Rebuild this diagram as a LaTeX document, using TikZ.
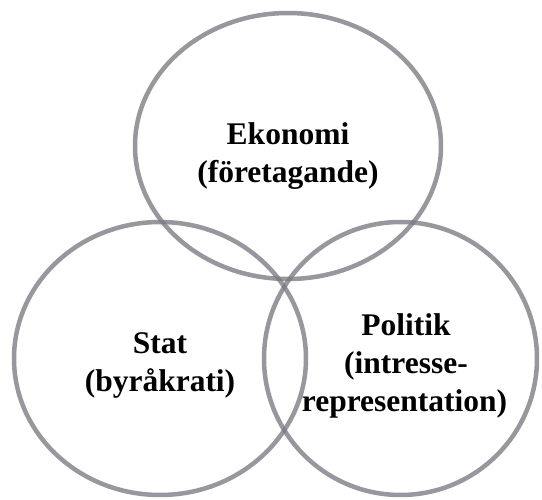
\documentclass[tikz,border=0pt]{standalone}
\usepackage{fontspec}
\setmainfont{Liberation Serif}
\definecolor{ringgray}{RGB}{122,122,130}
\begin{document}
\begin{tikzpicture}[x=1pt,y=-1pt,
  ring/.style={draw=ringgray, draw opacity=0.78, line width=4.5pt},
  lbl/.style={anchor=base, inner sep=0pt, font=\fontsize{31.5}{38}\selectfont\bfseries}]
\useasboundingbox (0,0) rectangle (542,500);
% circles
\draw[ring] (288,146) ellipse [x radius=153, y radius=133];
\draw[ring] (160,358.5) ellipse [x radius=146, y radius=136.5];
\draw[ring] (400.5,358.5) ellipse [x radius=136.5, y radius=136.5];
% labels
\node[lbl] (eko1) at (288,145) {Ekonomi};
\node[lbl] (eko2) at (288,183) {(företagande)};
\node[lbl] (stat1) at (160,354) {Stat};
\node[lbl] (stat2) at (160,392) {(byråkrati)};
\node[lbl] (pol1) at (406,336) {Politik};
\node[lbl] (pol2) at (406,374) {(intresse-};
\node[lbl] (pol3) at (404.5,412) {representation)};
\end{tikzpicture}
\end{document}
